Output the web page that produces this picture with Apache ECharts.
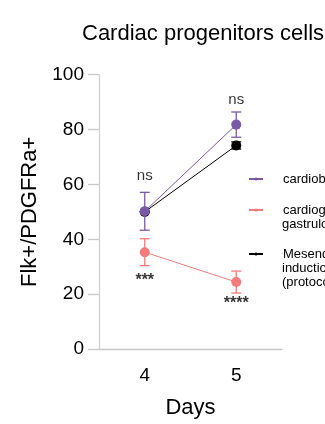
<!DOCTYPE html>
<html>
<head>
<meta charset="utf-8">
<script src="https://cdn.jsdelivr.net/npm/echarts@6/dist/echarts.min.js"></script>
<style>
html,body{margin:0;padding:0;background:#fff;}
#chart{width:325px;height:424px;}
</style>
</head>
<body>
<div id="chart"></div>
<script>
var days = ['4', '5'];
var yTicks = [0, 20, 40, 60, 80, 100];

var cardiobName = 'cardiobodies';
var cardiobMean = [50.2, 81.8];
var cardiobErr = [6.9, 4.6];

var gastruloidName = 'cardiogenic gastruloids';
var gastruloidMean = [35.3, 24.4];
var gastruloidErr = [4.9, 4.0];

var mesendoName = 'Mesendoderm induction (protocol)';
var mesendoMean = [50.0, 74.2];
var mesendoErr = [0.0, 1.3];

var annotTexts = ['ns', 'ns', '***', '****'];
var annotX = ['4', '5', '4', '5'];
var annotY = [63, 91, 25, 16.5];

var purple = '#7a5aa6';
var red = '#f47c7c';
var black = '#000000';
var FONT = '"Liberation Sans", Arial, sans-serif';

function errData(mean, err) {
  return mean.map(function (m, i) { return [i, m - err[i], m + err[i]]; });
}

function errSeries(name, mean, err, color, z) {
  return {
    type: 'custom',
    name: name + ' (SD)',
    z: z,
    silent: true,
    itemStyle: { color: color },
    data: errData(mean, err),
    renderItem: function (params, api) {
      var x = api.value(0);
      var lo = api.coord([x, api.value(1)]);
      var hi = api.coord([x, api.value(2)]);
      var hw = 5;
      var st = { stroke: color, lineWidth: 1.3 };
      return {
        type: 'group',
        children: [
          { type: 'line', shape: { x1: lo[0], y1: lo[1], x2: hi[0], y2: hi[1] }, style: st },
          { type: 'line', shape: { x1: lo[0] - hw, y1: lo[1], x2: lo[0] + hw, y2: lo[1] }, style: st },
          { type: 'line', shape: { x1: hi[0] - hw, y1: hi[1], x2: hi[0] + hw, y2: hi[1] }, style: st }
        ]
      };
    }
  };
}

function lineSeries(name, mean, color, z) {
  return {
    type: 'line',
    name: name,
    z: z,
    data: mean,
    symbol: 'circle',
    symbolSize: 10,
    lineStyle: { color: color, width: 1 },
    itemStyle: { color: color },
    silent: true
  };
}

function legendAt(name, top, firstLine) {
  return {
    data: [name],
    left: 248,
    top: top,
    padding: 0,
    itemWidth: 14,
    itemHeight: 4,
    itemGap: 0,
    formatter: function () { return firstLine; },
    textStyle: { fontFamily: FONT, fontSize: 13, color: '#000', padding: [0, 0, 0, 15] },
    selectedMode: false
  };
}

var chart = echarts.init(document.getElementById('chart'), null, { renderer: 'canvas' });
chart.setOption({
  animation: false,
  backgroundColor: '#fff',
  title: {
    text: 'Cardiac progenitors cells',
    left: 77,
    top: 18,
    textStyle: { fontFamily: FONT, fontSize: 22, fontWeight: 'normal', color: '#000' }
  },
  legend: [
    legendAt(cardiobName, 172.5, 'cardiobodies'),
    legendAt(gastruloidName, 203.5, 'cardiogenic'),
    legendAt(mesendoName, 247.5, 'Mesendoderm')
  ],
  graphic: [
    { type: 'text', left: 282, top: 218, style: { text: 'gastruloids', fontFamily: FONT, fontSize: 13, fill: '#000' } },
    { type: 'text', left: 282, top: 262, style: { text: 'induction', fontFamily: FONT, fontSize: 13, fill: '#000' } },
    { type: 'text', left: 282, top: 276, style: { text: '(protocol)', fontFamily: FONT, fontSize: 13, fill: '#000' } }
  ],
  grid: { left: 99, right: 43, top: 74.7, bottom: 75, containLabel: false },
  xAxis: {
    type: 'category',
    data: days,
    boundaryGap: true,
    name: 'Days',
    nameLocation: 'middle',
    nameGap: 48,
    nameTextStyle: { fontFamily: FONT, fontSize: 22, color: '#000' },
    axisLine: { lineStyle: { color: '#c8c8c8', width: 1.3 } },
    axisTick: { alignWithLabel: true, length: 10, lineStyle: { color: '#c8c8c8', width: 1.3 } },
    axisLabel: { fontFamily: FONT, fontSize: 19, color: '#000', margin: 17 }
  },
  yAxis: {
    type: 'value',
    min: yTicks[0],
    max: yTicks[yTicks.length - 1],
    interval: 20,
    name: 'Flk+/PDGFRa+',
    nameLocation: 'middle',
    nameGap: 57,
    nameTextStyle: { fontFamily: FONT, fontSize: 22, color: '#000' },
    splitLine: { show: false },
    axisLine: { show: true, lineStyle: { color: '#d0d0d0', width: 1.3 } },
    axisTick: { show: true, length: 11, lineStyle: { color: '#c8c8c8', width: 1.3 } },
    axisLabel: { fontFamily: FONT, fontSize: 19, color: '#000', margin: 15 }
  },
  series: [
    errSeries(mesendoName, mesendoMean, mesendoErr, black, 2),
    lineSeries(mesendoName, mesendoMean, black, 3),
    errSeries(gastruloidName, gastruloidMean, gastruloidErr, red, 4),
    lineSeries(gastruloidName, gastruloidMean, red, 5),
    errSeries(cardiobName, cardiobMean, cardiobErr, purple, 6),
    lineSeries(cardiobName, cardiobMean, purple, 7),
    {
      type: 'scatter',
      name: 'annot',
      z: 8,
      silent: true,
      symbolSize: 0,
      data: annotTexts.map(function (t, i) {
        var star = t.indexOf('*') >= 0;
        return {
          value: [annotX[i], annotY[i]], name: t,
          label: { fontSize: star ? 16 : 15, fontWeight: star ? 'bold' : 'normal' }
        };
      }),
      label: {
        show: true,
        position: 'inside',
        formatter: function (p) { return p.name; },
        fontFamily: FONT,
        color: '#000'
      }
    }
  ]
});
</script>
</body>
</html>
